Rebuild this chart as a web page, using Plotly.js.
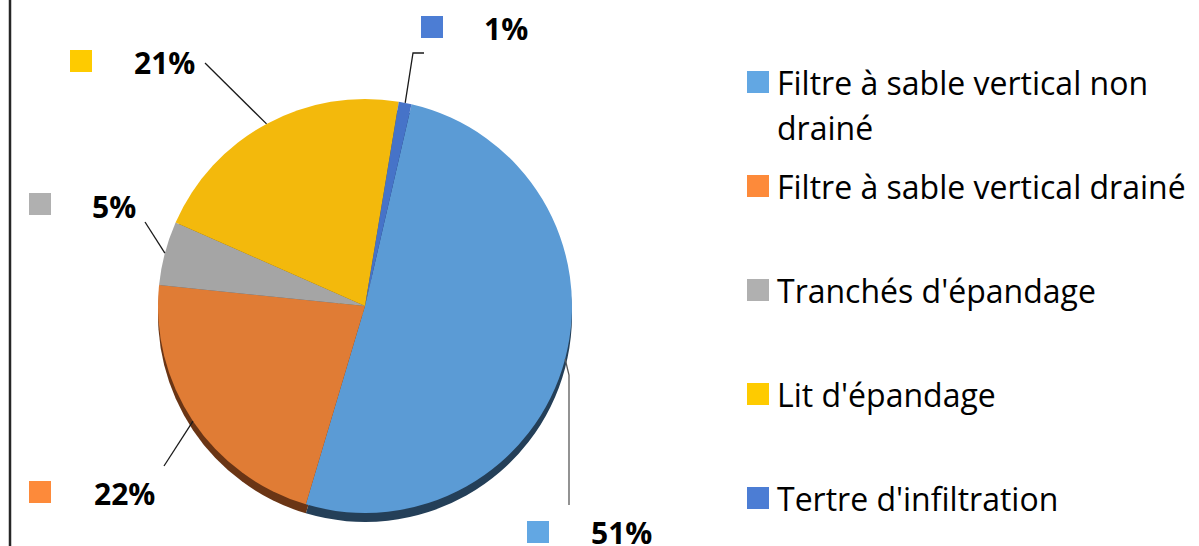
<!DOCTYPE html>
<html><head><meta charset="utf-8">
<script src="https://cdn.plot.ly/plotly-3.0.1.min.js"></script>
<style>html,body{margin:0;padding:0;background:#fff}#chart{width:1199px;height:546px}</style>
</head><body><div id="chart"></div>
<script>
// ---- data ----
const categories = ["Filtre à sable vertical non drainé", "Filtre à sable vertical drainé", "Tranchés d'épandage", "Lit d'épandage", "Tertre d'infiltration"];
const shares = [51, 22, 5, 21, 1];
const sliceColors = ["#5B9BD5", "#E07C35", "#A5A5A5", "#F3B90C", "#4673C8"];
const sideColors = ["#243F58", "#6A3515", "#555555", "#7A5D06", "#22396A"];
const keyColors = ["#62A7E3", "#FD8A3A", "#B0B0B0", "#FECB00", "#4C7DD4"];

// ---- layout geometry (pixels) ----
const W = 1199, H = 546;
const cx = 365, cy = 306, R = 207, depth = 9, rotationDeg = 13;
const px = x => x / W, py = y => 1 - y / H;
const labelPos = [[621, 532], [124, 493], [114, 206], [164, 62], [506, 28]];
const keyPos = [[538, 532], [40, 492], [40, 204], [81, 61], [432, 27]];
const leaderEnd = [[[569, 375], [569, 505]], [[164, 466]], [[145, 222]], [[205, 63]], [[413, 53], [424, 53]]];
const legendX = 747, legendTextX = 775, legendY = [82, 186, 290, 394, 498], keySize = 22;
const FONT = "Open Sans, Noto Sans, sans-serif";

const total = shares.reduce((a, b) => a + b, 0);

const shadow = {
  type: 'pie', values: shares, labels: categories, sort: false, direction: 'clockwise',
  rotation: rotationDeg, textinfo: 'none', hoverinfo: 'skip', showlegend: false,
  marker: {colors: sideColors, line: {width: 0}},
  domain: {x: [px(cx - R), px(cx + R)], y: [py(cy + depth + R), py(cy + depth - R)]}
};
const pie = {
  type: 'pie', values: shares, labels: categories, sort: false, direction: 'clockwise',
  rotation: rotationDeg, textinfo: 'none', hoverinfo: 'label+percent', showlegend: false,
  marker: {colors: sliceColors, line: {width: 0}},
  domain: {x: [px(cx - R), px(cx + R)], y: [py(cy + R), py(cy - R)]}
};

const shapes = [];
const annotations = [];

// chart frame left edge
shapes.push({type: 'line', xref: 'paper', yref: 'paper', x0: px(10), x1: px(10), y0: 0, y1: 1,
  line: {color: '#262626', width: 2.5}});

// data labels with leader lines and keys
let acc = 0;
shares.forEach((v, i) => {
  const mid = (rotationDeg + (acc + v / 2) / total * 360) * Math.PI / 180;
  acc += v;
  const sx = cx + R * Math.sin(mid), sy = cy - R * Math.cos(mid);
  let path = `M ${px(sx)} ${py(sy)}`;
  leaderEnd[i].forEach(p => { path += ` L ${px(p[0])} ${py(p[1])}`; });
  shapes.push({type: 'path', xref: 'paper', yref: 'paper', path: path,
    line: {color: i === 0 ? '#595959' : '#1a1a1a', width: 1.3}});
  const k = keyPos[i];
  shapes.push({type: 'rect', xref: 'paper', yref: 'paper',
    x0: px(k[0] - keySize / 2), x1: px(k[0] + keySize / 2), y0: py(k[1] + keySize / 2), y1: py(k[1] - keySize / 2),
    fillcolor: keyColors[i], line: {width: 0}});
  annotations.push({xref: 'paper', yref: 'paper', x: px(labelPos[i][0]), y: py(labelPos[i][1]),
    xanchor: 'center', yanchor: 'middle', showarrow: false,
    text: Math.round(v / total * 100) + '%',
    font: {family: FONT, size: 30, color: '#000', weight: 700}});
});

// legend
categories.forEach((c, i) => {
  const y = legendY[i];
  shapes.push({type: 'rect', xref: 'paper', yref: 'paper',
    x0: px(legendX), x1: px(legendX + keySize), y0: py(y + keySize / 2), y1: py(y - keySize / 2),
    fillcolor: keyColors[i], line: {width: 0}});
  let lines = [c];
  if (c.length > 30) { const cut = c.lastIndexOf(' '); lines = [c.slice(0, cut), c.slice(cut + 1)]; }
  lines.forEach((t, j) => {
    annotations.push({xref: 'paper', yref: 'paper', x: px(legendTextX), y: py(y + j * 45),
      xanchor: 'left', yanchor: 'middle', showarrow: false, text: t,
      font: {family: FONT, size: 32, color: '#000'}});
  });
});

Plotly.newPlot('chart', [shadow, pie], {
  width: W, height: H, margin: {l: 0, r: 0, t: 0, b: 0},
  paper_bgcolor: '#fff', plot_bgcolor: '#fff', showlegend: false,
  shapes: shapes, annotations: annotations
}, {displayModeBar: false, staticPlot: true});
</script></body></html>
